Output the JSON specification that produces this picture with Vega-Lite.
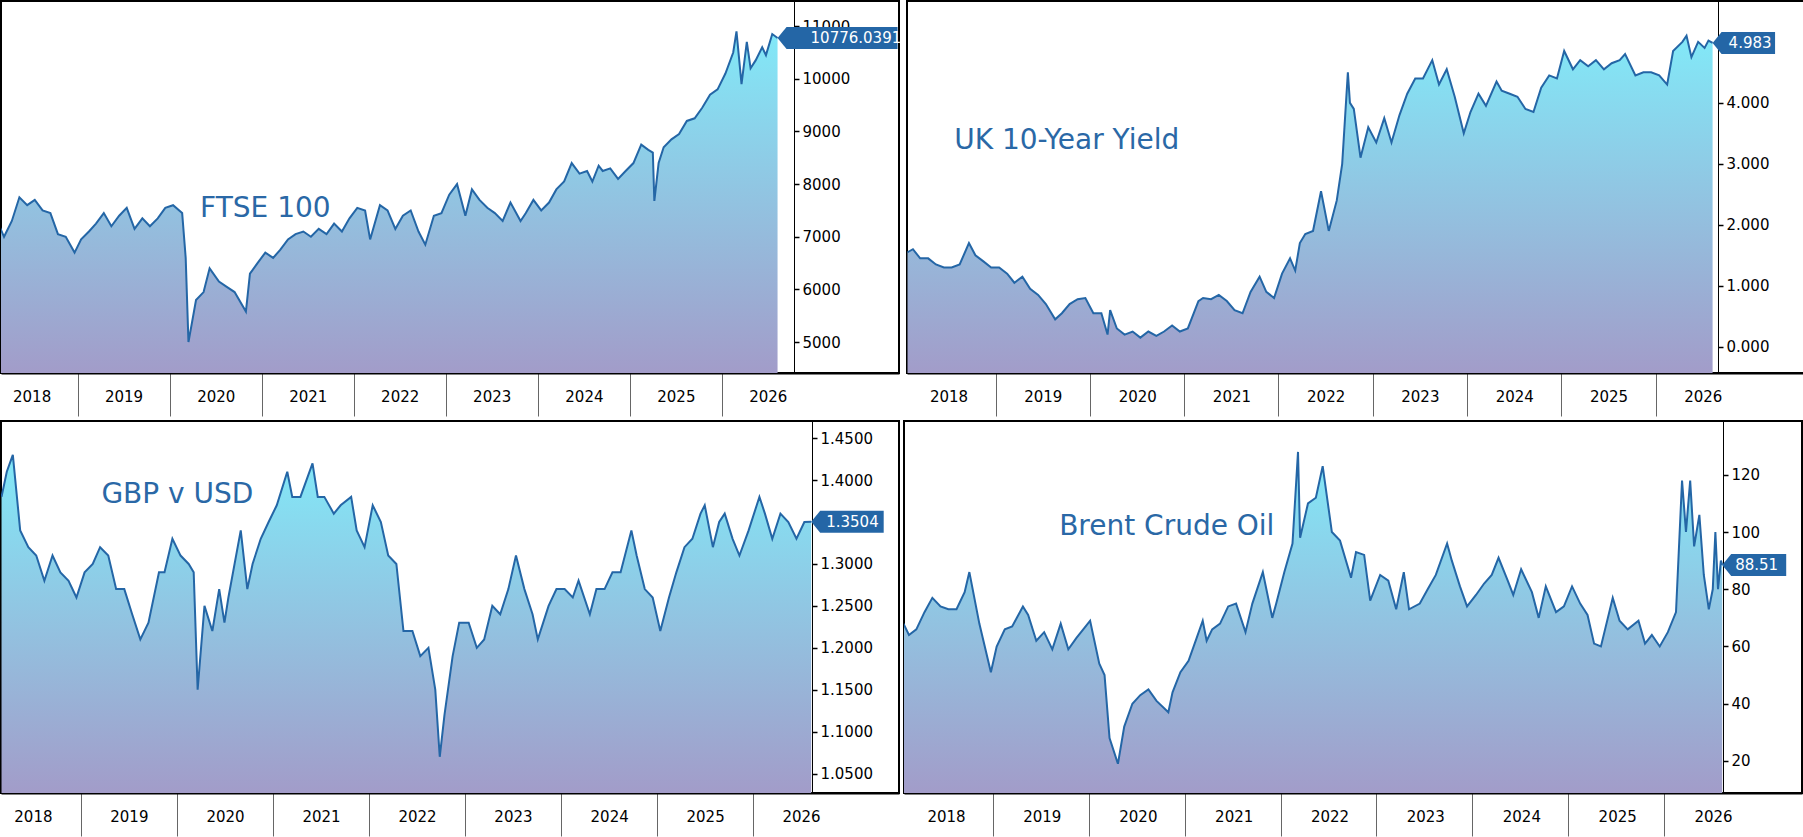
{
  "$schema": "https://vega.github.io/schema/vega-lite/v6.json",
  "padding": 0,
  "background": "white",
  "datasets": {
    "ftse": [
      {"d":"2018-02-25","v":7200},{"d":"2018-03-15","v":7000},{"d":"2018-04-15","v":7300},{"d":"2018-05-15","v":7750},{"d":"2018-06-15","v":7600},{"d":"2018-07-15","v":7700},{"d":"2018-08-15","v":7500},{"d":"2018-09-15","v":7450},{"d":"2018-10-15","v":7050},{"d":"2018-11-15","v":7000},{"d":"2018-12-20","v":6700},
      {"d":"2019-01-15","v":6950},{"d":"2019-02-15","v":7100},{"d":"2019-03-15","v":7250},{"d":"2019-04-15","v":7450},{"d":"2019-05-15","v":7200},{"d":"2019-06-15","v":7400},{"d":"2019-07-15","v":7550},{"d":"2019-08-15","v":7150},{"d":"2019-09-15","v":7350},{"d":"2019-10-15","v":7200},{"d":"2019-11-15","v":7350},{"d":"2019-12-15","v":7550},
      {"d":"2020-01-15","v":7600},{"d":"2020-02-20","v":7450},{"d":"2020-03-05","v":6600},{"d":"2020-03-16","v":5000},{"d":"2020-04-15","v":5800},{"d":"2020-05-15","v":5950},{"d":"2020-06-08","v":6400},{"d":"2020-07-15","v":6150},{"d":"2020-08-15","v":6050},{"d":"2020-09-15","v":5950},{"d":"2020-10-30","v":5580},{"d":"2020-11-15","v":6300},{"d":"2020-12-15","v":6500},
      {"d":"2021-01-15","v":6700},{"d":"2021-02-15","v":6600},{"d":"2021-03-15","v":6750},{"d":"2021-04-15","v":6950},{"d":"2021-05-15","v":7050},{"d":"2021-06-15","v":7100},{"d":"2021-07-15","v":7000},{"d":"2021-08-15","v":7150},{"d":"2021-09-15","v":7050},{"d":"2021-10-15","v":7250},{"d":"2021-11-15","v":7100},{"d":"2021-12-15","v":7350},
      {"d":"2022-01-15","v":7550},{"d":"2022-02-15","v":7500},{"d":"2022-03-07","v":6950},{"d":"2022-04-15","v":7600},{"d":"2022-05-15","v":7500},{"d":"2022-06-15","v":7150},{"d":"2022-07-15","v":7400},{"d":"2022-08-15","v":7500},{"d":"2022-09-15","v":7100},{"d":"2022-10-12","v":6850},{"d":"2022-11-15","v":7400},{"d":"2022-12-15","v":7450},
      {"d":"2023-01-15","v":7800},{"d":"2023-02-15","v":8000},{"d":"2023-03-20","v":7400},{"d":"2023-04-15","v":7900},{"d":"2023-05-15","v":7700},{"d":"2023-06-15","v":7550},{"d":"2023-07-15","v":7450},{"d":"2023-08-15","v":7300},{"d":"2023-09-15","v":7650},{"d":"2023-10-25","v":7300},{"d":"2023-11-15","v":7450},{"d":"2023-12-15","v":7700},
      {"d":"2024-01-15","v":7500},{"d":"2024-02-15","v":7650},{"d":"2024-03-15","v":7900},{"d":"2024-04-15","v":8050},{"d":"2024-05-15","v":8400},{"d":"2024-06-15","v":8200},{"d":"2024-07-15","v":8250},{"d":"2024-08-05","v":8050},{"d":"2024-08-30","v":8350},{"d":"2024-09-15","v":8250},{"d":"2024-10-15","v":8300},{"d":"2024-11-15","v":8100},{"d":"2024-12-15","v":8250},
      {"d":"2025-01-15","v":8400},{"d":"2025-02-15","v":8750},{"d":"2025-03-15","v":8650},{"d":"2025-04-02","v":8600},{"d":"2025-04-08","v":7680},{"d":"2025-04-25","v":8400},{"d":"2025-05-15","v":8700},{"d":"2025-06-15","v":8850},{"d":"2025-07-15","v":8950},{"d":"2025-08-15","v":9200},{"d":"2025-09-15","v":9250},{"d":"2025-10-15","v":9450},{"d":"2025-11-15","v":9700},{"d":"2025-12-15","v":9800},
      {"d":"2026-01-15","v":10100},{"d":"2026-02-15","v":10500},{"d":"2026-02-28","v":10900},{"d":"2026-03-20","v":9900},{"d":"2026-04-10","v":10700},{"d":"2026-04-25","v":10200},{"d":"2026-05-15","v":10350},{"d":"2026-06-10","v":10600},{"d":"2026-06-25","v":10450},{"d":"2026-07-20","v":10850},{"d":"2026-08-10","v":10776.0391}
    ],
    "gilt": [
      {"d":"2018-01-25","v":1.55},{"d":"2018-02-15","v":1.60},{"d":"2018-03-15","v":1.45},{"d":"2018-04-15","v":1.45},{"d":"2018-05-15","v":1.35},{"d":"2018-06-15","v":1.30},{"d":"2018-07-15","v":1.30},{"d":"2018-08-15","v":1.35},{"d":"2018-09-20","v":1.70},{"d":"2018-10-15","v":1.50},{"d":"2018-11-15","v":1.40},{"d":"2018-12-15","v":1.30},
      {"d":"2019-01-15","v":1.30},{"d":"2019-02-15","v":1.20},{"d":"2019-03-15","v":1.05},{"d":"2019-04-15","v":1.15},{"d":"2019-05-15","v":0.95},{"d":"2019-06-15","v":0.85},{"d":"2019-07-15","v":0.70},{"d":"2019-08-20","v":0.45},{"d":"2019-09-15","v":0.55},{"d":"2019-10-15","v":0.70},{"d":"2019-11-15","v":0.78},{"d":"2019-12-15","v":0.80},
      {"d":"2020-01-15","v":0.55},{"d":"2020-02-15","v":0.55},{"d":"2020-03-10","v":0.20},{"d":"2020-03-20","v":0.60},{"d":"2020-04-15","v":0.30},{"d":"2020-05-15","v":0.20},{"d":"2020-06-15","v":0.25},{"d":"2020-07-15","v":0.15},{"d":"2020-08-15","v":0.25},{"d":"2020-09-15","v":0.18},{"d":"2020-10-15","v":0.25},{"d":"2020-11-15","v":0.35},{"d":"2020-12-15","v":0.25},
      {"d":"2021-01-15","v":0.30},{"d":"2021-02-25","v":0.75},{"d":"2021-03-15","v":0.80},{"d":"2021-04-15","v":0.78},{"d":"2021-05-15","v":0.85},{"d":"2021-06-15","v":0.75},{"d":"2021-07-15","v":0.60},{"d":"2021-08-15","v":0.55},{"d":"2021-09-15","v":0.90},{"d":"2021-10-20","v":1.15},{"d":"2021-11-15","v":0.90},{"d":"2021-12-15","v":0.80},
      {"d":"2022-01-15","v":1.20},{"d":"2022-02-15","v":1.45},{"d":"2022-03-07","v":1.25},{"d":"2022-03-25","v":1.70},{"d":"2022-04-15","v":1.85},{"d":"2022-05-15","v":1.90},{"d":"2022-06-15","v":2.55},{"d":"2022-07-15","v":1.90},{"d":"2022-08-15","v":2.40},{"d":"2022-09-05","v":3.00},{"d":"2022-09-27","v":4.50},{"d":"2022-10-05","v":4.00},{"d":"2022-10-20","v":3.90},{"d":"2022-11-15","v":3.10},{"d":"2022-12-15","v":3.60},
      {"d":"2023-01-15","v":3.35},{"d":"2023-02-15","v":3.75},{"d":"2023-03-15","v":3.35},{"d":"2023-04-15","v":3.80},{"d":"2023-05-15","v":4.15},{"d":"2023-06-15","v":4.40},{"d":"2023-07-15","v":4.40},{"d":"2023-08-20","v":4.70},{"d":"2023-09-15","v":4.30},{"d":"2023-10-15","v":4.55},{"d":"2023-11-15","v":4.10},{"d":"2023-12-20","v":3.50},
      {"d":"2024-01-15","v":3.85},{"d":"2024-02-15","v":4.15},{"d":"2024-03-15","v":3.95},{"d":"2024-04-25","v":4.35},{"d":"2024-05-15","v":4.20},{"d":"2024-06-15","v":4.15},{"d":"2024-07-15","v":4.10},{"d":"2024-08-15","v":3.90},{"d":"2024-09-15","v":3.85},{"d":"2024-10-15","v":4.25},{"d":"2024-11-15","v":4.45},{"d":"2024-12-15","v":4.40},
      {"d":"2025-01-12","v":4.85},{"d":"2025-02-15","v":4.55},{"d":"2025-03-15","v":4.70},{"d":"2025-04-15","v":4.60},{"d":"2025-05-15","v":4.70},{"d":"2025-06-15","v":4.55},{"d":"2025-07-15","v":4.65},{"d":"2025-08-15","v":4.70},{"d":"2025-09-05","v":4.80},{"d":"2025-10-15","v":4.45},{"d":"2025-11-15","v":4.50},{"d":"2025-12-15","v":4.50},
      {"d":"2026-01-15","v":4.45},{"d":"2026-02-15","v":4.30},{"d":"2026-03-10","v":4.85},{"d":"2026-04-15","v":5.00},{"d":"2026-05-01","v":5.10},{"d":"2026-05-20","v":4.75},{"d":"2026-06-15","v":5.00},{"d":"2026-07-10","v":4.90},{"d":"2026-07-25","v":5.02},{"d":"2026-08-10","v":4.983}
    ],
    "gbp": [
      {"d":"2018-03-05","v":1.38},{"d":"2018-03-25","v":1.41},{"d":"2018-04-17","v":1.43},{"d":"2018-05-15","v":1.34},{"d":"2018-06-15","v":1.32},{"d":"2018-07-15","v":1.31},{"d":"2018-08-15","v":1.28},{"d":"2018-09-15","v":1.31},{"d":"2018-10-15","v":1.29},{"d":"2018-11-15","v":1.28},{"d":"2018-12-15","v":1.26},
      {"d":"2019-01-15","v":1.29},{"d":"2019-02-15","v":1.30},{"d":"2019-03-15","v":1.32},{"d":"2019-04-15","v":1.31},{"d":"2019-05-15","v":1.27},{"d":"2019-06-15","v":1.27},{"d":"2019-07-15","v":1.24},{"d":"2019-08-15","v":1.21},{"d":"2019-09-15","v":1.23},{"d":"2019-10-25","v":1.29},{"d":"2019-11-15","v":1.29},{"d":"2019-12-15","v":1.33},
      {"d":"2020-01-15","v":1.31},{"d":"2020-02-15","v":1.30},{"d":"2020-03-05","v":1.29},{"d":"2020-03-20","v":1.15},{"d":"2020-04-15","v":1.25},{"d":"2020-05-15","v":1.22},{"d":"2020-06-10","v":1.27},{"d":"2020-06-30","v":1.23},{"d":"2020-07-15","v":1.26},{"d":"2020-08-31","v":1.34},{"d":"2020-09-25","v":1.27},{"d":"2020-10-15","v":1.30},{"d":"2020-11-15","v":1.33},{"d":"2020-12-15","v":1.35},
      {"d":"2021-01-15","v":1.37},{"d":"2021-02-24","v":1.41},{"d":"2021-03-15","v":1.38},{"d":"2021-04-15","v":1.38},{"d":"2021-05-31","v":1.42},{"d":"2021-06-20","v":1.38},{"d":"2021-07-15","v":1.38},{"d":"2021-08-20","v":1.36},{"d":"2021-09-15","v":1.37},{"d":"2021-10-25","v":1.38},{"d":"2021-11-15","v":1.34},{"d":"2021-12-15","v":1.32},
      {"d":"2022-01-15","v":1.37},{"d":"2022-02-15","v":1.35},{"d":"2022-03-15","v":1.31},{"d":"2022-04-15","v":1.30},{"d":"2022-05-12","v":1.22},{"d":"2022-06-15","v":1.22},{"d":"2022-07-15","v":1.19},{"d":"2022-08-15","v":1.20},{"d":"2022-09-10","v":1.15},{"d":"2022-09-27","v":1.07},{"d":"2022-10-15","v":1.12},{"d":"2022-11-15","v":1.19},{"d":"2022-12-10","v":1.23},
      {"d":"2023-01-15","v":1.23},{"d":"2023-02-15","v":1.20},{"d":"2023-03-15","v":1.21},{"d":"2023-04-15","v":1.25},{"d":"2023-05-15","v":1.24},{"d":"2023-06-15","v":1.27},{"d":"2023-07-14","v":1.31},{"d":"2023-08-15","v":1.27},{"d":"2023-09-15","v":1.24},{"d":"2023-10-05","v":1.21},{"d":"2023-11-15","v":1.25},{"d":"2023-12-15","v":1.27},
      {"d":"2024-01-15","v":1.27},{"d":"2024-02-15","v":1.26},{"d":"2024-03-08","v":1.28},{"d":"2024-04-20","v":1.24},{"d":"2024-05-15","v":1.27},{"d":"2024-06-15","v":1.27},{"d":"2024-07-15","v":1.29},{"d":"2024-08-15","v":1.29},{"d":"2024-09-25","v":1.34},{"d":"2024-10-15","v":1.31},{"d":"2024-11-15","v":1.27},{"d":"2024-12-15","v":1.26},
      {"d":"2025-01-13","v":1.22},{"d":"2025-02-15","v":1.26},{"d":"2025-03-15","v":1.29},{"d":"2025-04-15","v":1.32},{"d":"2025-05-15","v":1.33},{"d":"2025-06-15","v":1.36},{"d":"2025-07-01","v":1.37},{"d":"2025-08-01","v":1.32},{"d":"2025-08-25","v":1.35},{"d":"2025-09-15","v":1.36},{"d":"2025-10-15","v":1.33},{"d":"2025-11-10","v":1.31},{"d":"2025-12-15","v":1.34},
      {"d":"2026-01-25","v":1.38},{"d":"2026-02-15","v":1.36},{"d":"2026-03-15","v":1.33},{"d":"2026-04-15","v":1.36},{"d":"2026-05-15","v":1.35},{"d":"2026-06-15","v":1.33},{"d":"2026-07-15","v":1.35},{"d":"2026-08-10","v":1.3504}
    ],
    "brent": [
      {"d":"2018-01-25","v":68},{"d":"2018-02-15","v":64},{"d":"2018-03-15","v":66},{"d":"2018-04-15","v":72},{"d":"2018-05-15","v":77},{"d":"2018-06-15","v":74},{"d":"2018-07-15","v":73},{"d":"2018-08-15","v":73},{"d":"2018-09-15","v":79},{"d":"2018-10-03","v":86},{"d":"2018-11-10","v":68},{"d":"2018-12-24","v":51},
      {"d":"2019-01-15","v":60},{"d":"2019-02-15","v":66},{"d":"2019-03-15","v":67},{"d":"2019-04-25","v":74},{"d":"2019-05-15","v":71},{"d":"2019-06-15","v":62},{"d":"2019-07-15","v":65},{"d":"2019-08-15","v":59},{"d":"2019-09-16","v":68},{"d":"2019-10-15","v":59},{"d":"2019-11-15","v":63},{"d":"2019-12-20","v":67},
      {"d":"2020-01-06","v":69},{"d":"2020-02-10","v":54},{"d":"2020-03-01","v":50},{"d":"2020-03-20","v":28},{"d":"2020-04-21","v":19},{"d":"2020-05-15","v":32},{"d":"2020-06-15","v":40},{"d":"2020-07-15","v":43},{"d":"2020-08-15","v":45},{"d":"2020-09-15","v":41},{"d":"2020-10-30","v":37},{"d":"2020-11-15","v":44},{"d":"2020-12-15","v":51},
      {"d":"2021-01-15","v":55},{"d":"2021-02-15","v":63},{"d":"2021-03-10","v":69},{"d":"2021-03-25","v":62},{"d":"2021-04-15","v":66},{"d":"2021-05-15","v":68},{"d":"2021-06-15","v":74},{"d":"2021-07-15","v":75},{"d":"2021-08-20","v":65},{"d":"2021-09-15","v":75},{"d":"2021-10-25","v":86},{"d":"2021-11-30","v":70},{"d":"2021-12-15","v":75},
      {"d":"2022-01-15","v":86},{"d":"2022-02-15","v":96},{"d":"2022-03-08","v":128},{"d":"2022-03-16","v":98},{"d":"2022-04-15","v":110},{"d":"2022-05-15","v":112},{"d":"2022-06-10","v":123},{"d":"2022-07-15","v":100},{"d":"2022-08-15","v":97},{"d":"2022-09-26","v":84},{"d":"2022-10-15","v":93},{"d":"2022-11-15","v":92},{"d":"2022-12-08","v":76},
      {"d":"2023-01-15","v":85},{"d":"2023-02-15","v":83},{"d":"2023-03-17","v":73},{"d":"2023-04-15","v":86},{"d":"2023-05-05","v":73},{"d":"2023-06-15","v":75},{"d":"2023-07-15","v":80},{"d":"2023-08-15","v":85},{"d":"2023-09-27","v":96},{"d":"2023-10-15","v":90},{"d":"2023-11-15","v":81},{"d":"2023-12-12","v":74},
      {"d":"2024-01-15","v":78},{"d":"2024-02-15","v":82},{"d":"2024-03-15","v":85},{"d":"2024-04-10","v":91},{"d":"2024-05-15","v":83},{"d":"2024-06-05","v":78},{"d":"2024-07-05","v":87},{"d":"2024-08-15","v":79},{"d":"2024-09-10","v":70},{"d":"2024-10-07","v":81},{"d":"2024-11-15","v":72},{"d":"2024-12-15","v":74},
      {"d":"2025-01-15","v":81},{"d":"2025-02-15","v":75},{"d":"2025-03-15","v":71},{"d":"2025-04-09","v":61},{"d":"2025-05-05","v":60},{"d":"2025-06-19","v":77},{"d":"2025-07-15","v":69},{"d":"2025-08-15","v":66},{"d":"2025-09-25","v":69},{"d":"2025-10-20","v":61},{"d":"2025-11-15","v":64},{"d":"2025-12-15","v":60},
      {"d":"2026-01-15","v":65},{"d":"2026-02-15","v":72},{"d":"2026-03-10","v":118},{"d":"2026-03-25","v":100},{"d":"2026-04-10","v":118},{"d":"2026-04-25","v":95},{"d":"2026-05-15","v":106},{"d":"2026-06-01","v":85},{"d":"2026-06-20","v":73},{"d":"2026-07-05","v":80},{"d":"2026-07-15","v":100},{"d":"2026-07-25","v":80},{"d":"2026-08-05","v":90},{"d":"2026-08-10","v":88.51}
    ]
  },
  "vconcat": [
    {
      "hconcat": [
        {
          "width": 898, "height": 372,
          "layer": [
            {
              "data": {"name": "ftse"},
              "mark": {"type": "area", "clip": true, "color": {"gradient": "linear", "x1": 0, "y1": 0, "x2": 0, "y2": 1, "stops": [{"offset": 0, "color": "#82e9f8"}, {"offset": 1, "color": "#a29cc9"}]}},
              "encoding": {
                "x": {"field": "d", "type": "temporal", "scale": {"domain": [{"year": 2018, "month": 3, "date": 3}, {"year": 2027, "month": 12, "date": 5}]},
                  "axis": {"values": [{"year": 2019, "month": 1, "date": 1}, {"year": 2020, "month": 1, "date": 1}, {"year": 2021, "month": 1, "date": 1}, {"year": 2022, "month": 1, "date": 1}, {"year": 2023, "month": 1, "date": 1}, {"year": 2024, "month": 1, "date": 1}, {"year": 2025, "month": 1, "date": 1}, {"year": 2026, "month": 1, "date": 1}, {"year": 2027, "month": 1, "date": 1}], "labelExpr": "year(datum.value) - 1", "labelOffset": -46, "tickOpacity": {"condition": {"test": "year(datum.value) == 2027", "value": 0}, "value": 1}}},
                "y": {"field": "v", "type": "quantitative", "scale": {"domain": [4413, 11478], "zero": false, "nice": false},
                  "axis": {"offset": -105, "format": "d", "values": [5000, 6000, 7000, 8000, 9000, 10000, 11000]}},
                "y2": {"datum": 4413}
              }
            },
            {
              "data": {"name": "ftse"},
              "mark": {"type": "line", "color": "#2466a6", "strokeWidth": 2, "clip": true},
              "encoding": {"x": {"field": "d", "type": "temporal"}, "y": {"field": "v", "type": "quantitative"}}
            },
            {
              "data": {"values": [{"d": "2026-08-10", "v": 10776.0391, "t": "10776.0391"}]},
              "mark": {"type": "point", "filled": true, "color": "#2466a6", "opacity": 1, "size": 10000, "dx": 23, "shape": "M0,0 L0.18,-0.22 L2.4,-0.22 L2.4,0.22 L0.18,0.22 Z"},
              "encoding": {"x": {"field": "d", "type": "temporal"}, "y": {"field": "v", "type": "quantitative"}}
            },
            {
              "data": {"values": [{"d": "2026-08-10", "v": 10776.0391, "t": "10776.0391"}]},
              "mark": {"type": "text", "color": "white", "align": "left", "dx": 33, "fontSize": 15},
              "encoding": {"x": {"field": "d", "type": "temporal"}, "y": {"field": "v", "type": "quantitative"}, "text": {"field": "t"}}
            },
            {
              "data": {"values": [{"d": "2020-05-01", "v": 7520, "t": "FTSE 100"}]},
              "mark": {"type": "text", "color": "#2a68a6", "align": "left", "fontSize": 28},
              "encoding": {"x": {"field": "d", "type": "temporal"}, "y": {"field": "v", "type": "quantitative"}, "text": {"field": "t"}}
            }
          ]
        },
        {
          "width": 898, "height": 372,
          "layer": [
            {
              "data": {"name": "gilt"},
              "mark": {"type": "area", "clip": true, "color": {"gradient": "linear", "x1": 0, "y1": 0, "x2": 0, "y2": 1, "stops": [{"offset": 0, "color": "#82e9f8"}, {"offset": 1, "color": "#a29cc9"}]}},
              "encoding": {
                "x": {"field": "d", "type": "temporal", "scale": {"domain": [{"year": 2018, "month": 1, "date": 23}, {"year": 2027, "month": 8, "date": 3}]},
                  "axis": {"values": [{"year": 2019, "month": 1, "date": 1}, {"year": 2020, "month": 1, "date": 1}, {"year": 2021, "month": 1, "date": 1}, {"year": 2022, "month": 1, "date": 1}, {"year": 2023, "month": 1, "date": 1}, {"year": 2024, "month": 1, "date": 1}, {"year": 2025, "month": 1, "date": 1}, {"year": 2026, "month": 1, "date": 1}, {"year": 2027, "month": 1, "date": 1}], "labelExpr": "year(datum.value) - 1", "labelOffset": -47, "tickOpacity": {"condition": {"test": "year(datum.value) == 2027", "value": 0}, "value": 1}}},
                "y": {"field": "v", "type": "quantitative", "scale": {"domain": [-0.43, 5.67], "zero": false, "nice": false},
                  "axis": {"offset": -87, "values": [0, 0.5, 1, 1.5, 2, 2.5, 3, 3.5, 4, 4.5, 5, 5.5], "labelExpr": "datum.value % 1 == 0 && datum.value < 5 ? format(datum.value, '.3f') : ''"}},
                "y2": {"datum": -0.43}
              }
            },
            {
              "data": {"name": "gilt"},
              "mark": {"type": "line", "color": "#2466a6", "strokeWidth": 2, "clip": true},
              "encoding": {"x": {"field": "d", "type": "temporal"}, "y": {"field": "v", "type": "quantitative"}}
            },
            {
              "data": {"values": [{"d": "2026-08-10", "v": 4.983, "t": "4.983"}]},
              "mark": {"type": "point", "filled": true, "color": "#2466a6", "opacity": 1, "size": 10000, "dx": 5, "shape": "M0,0 L0.18,-0.22 L1.25,-0.22 L1.25,0.22 L0.18,0.22 Z"},
              "encoding": {"x": {"field": "d", "type": "temporal"}, "y": {"field": "v", "type": "quantitative"}}
            },
            {
              "data": {"values": [{"d": "2026-08-10", "v": 4.983, "t": "4.983"}]},
              "mark": {"type": "text", "color": "white", "align": "left", "dx": 16, "fontSize": 15},
              "encoding": {"x": {"field": "d", "type": "temporal"}, "y": {"field": "v", "type": "quantitative"}, "text": {"field": "t"}}
            },
            {
              "data": {"values": [{"d": "2018-07-25", "v": 3.38, "t": "UK 10-Year Yield"}]},
              "mark": {"type": "text", "color": "#2a68a6", "align": "left", "fontSize": 28},
              "encoding": {"x": {"field": "d", "type": "temporal"}, "y": {"field": "v", "type": "quantitative"}, "text": {"field": "t"}}
            }
          ]
        }
      ]
    },
    {
      "hconcat": [
        {
          "width": 898, "height": 372,
          "layer": [
            {
              "data": {"name": "gbp"},
              "mark": {"type": "area", "clip": true, "color": {"gradient": "linear", "x1": 0, "y1": 0, "x2": 0, "y2": 1, "stops": [{"offset": 0, "color": "#82e9f8"}, {"offset": 1, "color": "#a29cc9"}]}},
              "encoding": {
                "x": {"field": "d", "type": "temporal", "scale": {"domain": [{"year": 2018, "month": 3, "date": 3}, {"year": 2027, "month": 7, "date": 10}]},
                  "axis": {"values": [{"year": 2019, "month": 1, "date": 1}, {"year": 2020, "month": 1, "date": 1}, {"year": 2021, "month": 1, "date": 1}, {"year": 2022, "month": 1, "date": 1}, {"year": 2023, "month": 1, "date": 1}, {"year": 2024, "month": 1, "date": 1}, {"year": 2025, "month": 1, "date": 1}, {"year": 2026, "month": 1, "date": 1}, {"year": 2027, "month": 1, "date": 1}], "labelExpr": "year(datum.value) - 1", "labelOffset": -48, "tickOpacity": {"condition": {"test": "year(datum.value) == 2027", "value": 0}, "value": 1}}},
                "y": {"field": "v", "type": "quantitative", "scale": {"domain": [1.0268, 1.4705], "zero": false, "nice": false},
                  "axis": {"offset": -87, "values": [1.05, 1.075, 1.1, 1.125, 1.15, 1.175, 1.2, 1.225, 1.25, 1.275, 1.3, 1.325, 1.35, 1.375, 1.4, 1.425, 1.45], "labelExpr": "round(datum.value * 1000) % 50 == 0 && round(datum.value * 1000) != 1350 ? format(datum.value, '.4f') : ''"}},
                "y2": {"datum": 1.0268}
              }
            },
            {
              "data": {"name": "gbp"},
              "mark": {"type": "line", "color": "#2466a6", "strokeWidth": 2, "clip": true},
              "encoding": {"x": {"field": "d", "type": "temporal"}, "y": {"field": "v", "type": "quantitative"}}
            },
            {
              "data": {"values": [{"d": "2026-08-10", "v": 1.3504, "t": "1.3504"}]},
              "mark": {"type": "point", "filled": true, "color": "#2466a6", "opacity": 1, "size": 10000, "dx": 4, "shape": "M0,0 L0.18,-0.22 L1.45,-0.22 L1.45,0.22 L0.18,0.22 Z"},
              "encoding": {"x": {"field": "d", "type": "temporal"}, "y": {"field": "v", "type": "quantitative"}}
            },
            {
              "data": {"values": [{"d": "2026-08-10", "v": 1.3504, "t": "1.3504"}]},
              "mark": {"type": "text", "color": "white", "align": "left", "dx": 15, "fontSize": 15},
              "encoding": {"x": {"field": "d", "type": "temporal"}, "y": {"field": "v", "type": "quantitative"}, "text": {"field": "t"}}
            },
            {
              "data": {"values": [{"d": "2019-03-20", "v": 1.382, "t": "GBP v USD"}]},
              "mark": {"type": "text", "color": "#2a68a6", "align": "left", "fontSize": 28},
              "encoding": {"x": {"field": "d", "type": "temporal"}, "y": {"field": "v", "type": "quantitative"}, "text": {"field": "t"}}
            }
          ]
        },
        {
          "width": 898, "height": 372,
          "layer": [
            {
              "data": {"name": "brent"},
              "mark": {"type": "area", "clip": true, "color": {"gradient": "linear", "x1": 0, "y1": 0, "x2": 0, "y2": 1, "stops": [{"offset": 0, "color": "#82e9f8"}, {"offset": 1, "color": "#a29cc9"}]}},
              "encoding": {
                "x": {"field": "d", "type": "temporal", "scale": {"domain": [{"year": 2018, "month": 1, "date": 27}, {"year": 2027, "month": 6, "date": 10}]},
                  "axis": {"values": [{"year": 2019, "month": 1, "date": 1}, {"year": 2020, "month": 1, "date": 1}, {"year": 2021, "month": 1, "date": 1}, {"year": 2022, "month": 1, "date": 1}, {"year": 2023, "month": 1, "date": 1}, {"year": 2024, "month": 1, "date": 1}, {"year": 2025, "month": 1, "date": 1}, {"year": 2026, "month": 1, "date": 1}, {"year": 2027, "month": 1, "date": 1}], "labelExpr": "year(datum.value) - 1", "labelOffset": -47, "tickOpacity": {"condition": {"test": "year(datum.value) == 2027", "value": 0}, "value": 1}}},
                "y": {"field": "v", "type": "quantitative", "scale": {"domain": [8.8, 138.8], "zero": false, "nice": false},
                  "axis": {"offset": -79, "format": "d", "values": [20, 40, 60, 80, 100, 120]}},
                "y2": {"datum": 8.8}
              }
            },
            {
              "data": {"name": "brent"},
              "mark": {"type": "line", "color": "#2466a6", "strokeWidth": 2, "clip": true},
              "encoding": {"x": {"field": "d", "type": "temporal"}, "y": {"field": "v", "type": "quantitative"}}
            },
            {
              "data": {"values": [{"d": "2026-08-10", "v": 88.51, "t": "88.51"}]},
              "mark": {"type": "point", "filled": true, "color": "#2466a6", "opacity": 1, "size": 10000, "dx": 2, "shape": "M0,0 L0.18,-0.22 L1.28,-0.22 L1.28,0.22 L0.18,0.22 Z"},
              "encoding": {"x": {"field": "d", "type": "temporal"}, "y": {"field": "v", "type": "quantitative"}}
            },
            {
              "data": {"values": [{"d": "2026-08-10", "v": 88.51, "t": "88.51"}]},
              "mark": {"type": "text", "color": "white", "align": "left", "dx": 13, "fontSize": 15},
              "encoding": {"x": {"field": "d", "type": "temporal"}, "y": {"field": "v", "type": "quantitative"}, "text": {"field": "t"}}
            },
            {
              "data": {"values": [{"d": "2019-09-10", "v": 101.6, "t": "Brent Crude Oil"}]},
              "mark": {"type": "text", "color": "#2a68a6", "align": "left", "fontSize": 28},
              "encoding": {"x": {"field": "d", "type": "temporal"}, "y": {"field": "v", "type": "quantitative"}, "text": {"field": "t"}}
            }
          ]
        }
      ]
    }
  ],
  "spacing": 2,
  "config": {
    "font": "DejaVu Sans",
    "concat": {"spacing": 3},
    "view": {"stroke": "black", "strokeWidth": 2},
    "axis": {"labelFont": "DejaVu Sans", "labelFontSize": 15, "labelColor": "black", "domainColor": "black", "tickColor": "black", "labelOverlap": false, "grid": false, "title": null},
    "axisX": {"tickSize": 43, "tickColor": "#666666", "domainWidth": 2, "labelPadding": -20, "labelBaseline": "middle"},
    "axisY": {"orient": "right", "tickSize": 5, "tickWidth": 1.5, "labelPadding": 3}
  }
}
